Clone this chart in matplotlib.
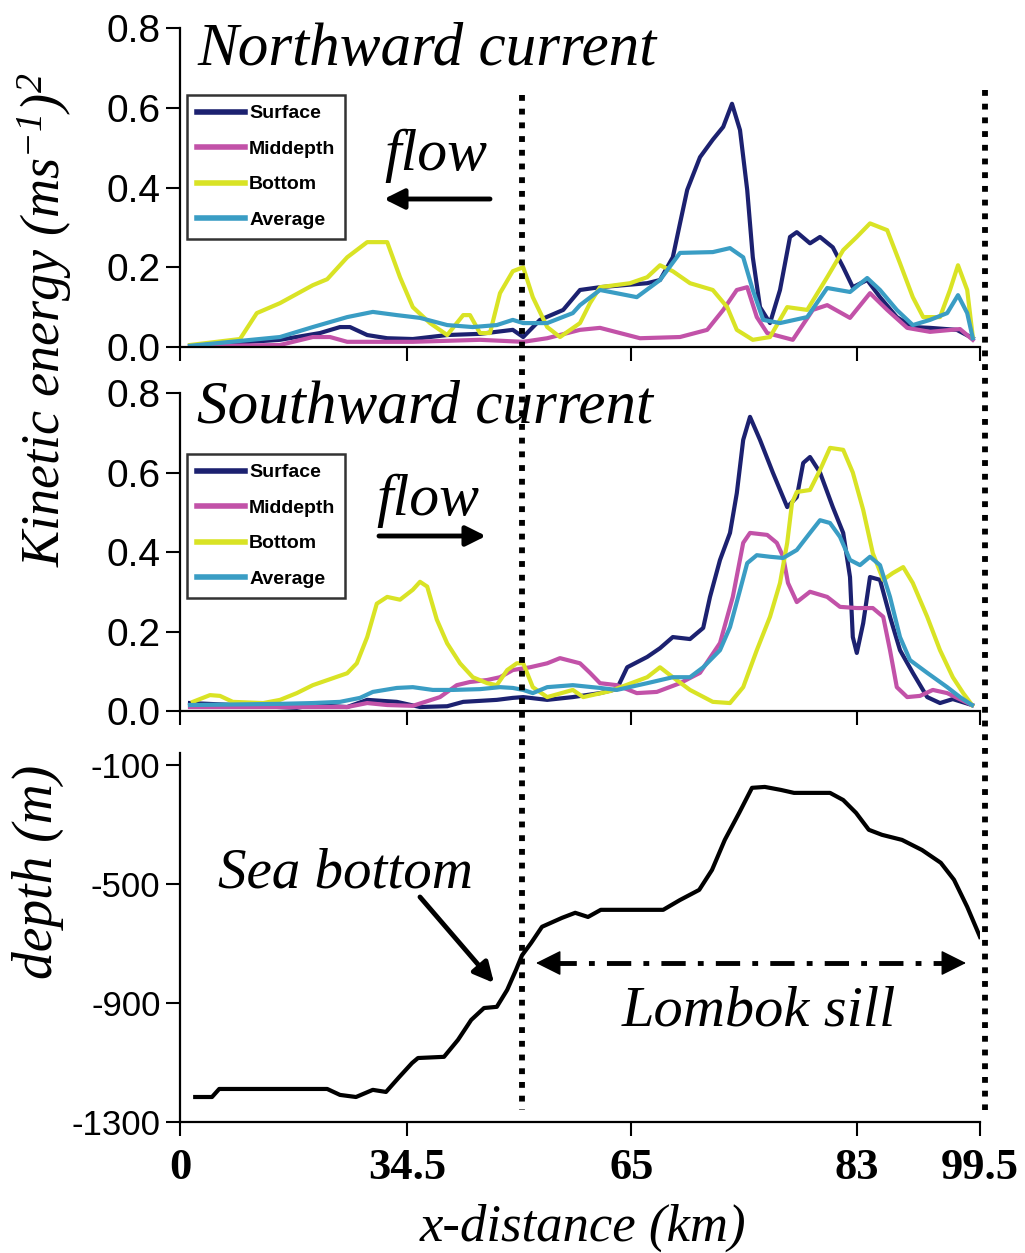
import matplotlib
matplotlib.use("Agg")
import matplotlib.pyplot as plt
from matplotlib.lines import Line2D
import matplotlib.transforms as mtransforms

# ---------------- data (x in plot units 0..100 along the section) ----------------
tick_pos = [0, 28.4, 56.4, 84.6, 100]
tick_labels = ["0", "34.5", "65", "83", "99.5"]
series_names = ["Surface", "Middepth", "Bottom", "Average"]

# Northward current
n_surface_x = [1.25, 12.5, 17.5, 20, 21.25, 23.4, 25.9, 29.1, 33.4, 37.5, 41.6, 42.9, 45, 47.9, 50, 52.5,
               58.4, 60, 61.6, 62.5, 63.4, 65, 66.6, 67.9, 69, 70, 70.9, 71.6, 72.5, 73.75, 75, 76.25,
               77.1, 78.75, 80, 81.6, 82.9, 84.1, 85.9, 87.5, 89.6, 91.6, 93.75, 97.1, 99.1]
n_surface_y = [0.003, 0.018, 0.035, 0.05, 0.05, 0.03, 0.022, 0.02, 0.03, 0.033, 0.043, 0.025, 0.068, 0.093, 0.143, 0.15,
               0.16, 0.168, 0.225, 0.31, 0.394, 0.476, 0.52, 0.552, 0.61, 0.544, 0.394, 0.225, 0.10, 0.06, 0.143, 0.276,
               0.288, 0.26, 0.276, 0.25, 0.20, 0.15, 0.168, 0.125, 0.075, 0.05, 0.048, 0.043, 0.022]
n_mid_x = [1.25, 12.5, 16.6, 18.75, 20.9, 29.1, 37.5, 42.9, 45.9, 50, 52.5, 55, 57.5, 62.5, 65.9, 67.9,
           69.6, 70.9, 72.1, 73.4, 76.6, 79.1, 80.9, 83.75, 86.25, 88.4, 90.9, 93.75, 97.5, 99.1]
n_mid_y = [0.002, 0.005, 0.025, 0.025, 0.013, 0.013, 0.018, 0.013, 0.022, 0.043, 0.048, 0.035, 0.022, 0.025, 0.043, 0.093,
           0.143, 0.15, 0.075, 0.035, 0.018, 0.093, 0.105, 0.073, 0.135, 0.093, 0.048, 0.038, 0.045, 0.018]
n_bot_x = [1.25, 7.5, 9.6, 12.5, 16.6, 18.4, 20.9, 23.4, 25.9, 27.5, 29.1, 31.25, 33.4, 35.4, 36.25, 37.5,
           38.75, 40, 41.6, 42.9, 44.1, 45.9, 47.5, 50, 51.25, 52.5, 56.25, 58.4, 60, 61.6, 63.75, 66.6,
           68.4, 69.6, 71.6, 73.75, 75.9, 78.4, 80.9, 82.9, 84.6, 86.25, 88.4, 90, 91.6, 92.9, 95, 96.25,
           97.25, 98.4, 99.1]
n_bot_y = [0.005, 0.02, 0.085, 0.11, 0.155, 0.17, 0.225, 0.263, 0.263, 0.175, 0.10, 0.06, 0.03, 0.08, 0.08, 0.035,
           0.035, 0.135, 0.19, 0.20, 0.125, 0.05, 0.025, 0.06, 0.11, 0.15, 0.16, 0.175, 0.205, 0.19, 0.16, 0.143,
           0.10, 0.043, 0.018, 0.025, 0.10, 0.093, 0.175, 0.243, 0.276, 0.31, 0.293, 0.21, 0.125, 0.075, 0.075, 0.143,
           0.205, 0.143, 0.025]
n_avg_x = [1.25, 12.5, 16.6, 20.9, 24.1, 27.1, 30, 33.4, 36.6, 39.6, 41.6, 42.9, 45.9, 49.1, 50, 52.5,
           57.1, 60, 62.5, 66.6, 68.75, 70.4, 71.6, 72.9, 75, 78.4, 80.9, 83.75, 85.9, 87.5, 89.6, 91.6,
           93.75, 95.9, 97.25, 98.4, 99.1]
n_avg_y = [0.003, 0.025, 0.05, 0.075, 0.088, 0.08, 0.073, 0.055, 0.05, 0.055, 0.068, 0.06, 0.06, 0.085, 0.105, 0.143,
           0.125, 0.168, 0.236, 0.238, 0.248, 0.225, 0.143, 0.068, 0.06, 0.075, 0.148, 0.138, 0.173, 0.143, 0.093, 0.055,
           0.068, 0.085, 0.13, 0.085, 0.022]

# Southward current
s_surface_x = [1.25, 14.6, 16.6, 20.9, 23.4, 27.1, 30, 33.4, 35.4, 39.6, 41.6, 42.9, 45.9, 49.1, 52.5, 54.6,
               55.9, 58.4, 60, 61.6, 63.75, 65.4, 66.25, 67.5, 68.75, 69.6, 70.4, 71.25, 72.5, 74.1, 75.9, 77.1,
               77.9, 78.75, 80, 81.6, 82.9, 83.75, 84.1, 84.6, 85.4, 86.25, 87.5, 88.75, 90, 91.6, 93.4, 95,
               96.6, 99]
s_surface_y = [0.02, 0.008, 0.015, 0.01, 0.028, 0.023, 0.01, 0.012, 0.023, 0.028, 0.033, 0.035, 0.028, 0.035, 0.045, 0.055,
               0.11, 0.136, 0.158, 0.186, 0.181, 0.209, 0.287, 0.38, 0.448, 0.548, 0.682, 0.74, 0.682, 0.60, 0.513, 0.538,
               0.624, 0.639, 0.60, 0.513, 0.448, 0.337, 0.186, 0.146, 0.221, 0.337, 0.33, 0.237, 0.153, 0.096, 0.035, 0.02,
               0.03, 0.015]
s_mid_x = [1.25, 20.9, 23.4, 25.9, 29.1, 32.5, 34.6, 36.25, 38.4, 40, 41.6, 43.75, 45.9, 47.5, 50, 51.25,
           52.5, 54.6, 57.1, 59.6, 62.5, 65, 67.5, 69.1, 70.4, 71.25, 73.4, 74.6, 75.4, 76, 77.1, 78.75,
           80.9, 82.5, 84.6, 86.6, 87.9, 88.75, 89.6, 90.9, 92.5, 94.1, 95.9, 99]
s_mid_y = [0.01, 0.01, 0.02, 0.015, 0.013, 0.035, 0.065, 0.073, 0.078, 0.085, 0.103, 0.11, 0.12, 0.133, 0.12, 0.096,
           0.07, 0.065, 0.045, 0.048, 0.07, 0.096, 0.171, 0.287, 0.423, 0.448, 0.443, 0.423, 0.388, 0.322, 0.274, 0.30,
           0.287, 0.262, 0.259, 0.259, 0.237, 0.153, 0.06, 0.035, 0.038, 0.053, 0.045, 0.015]
s_bot_x = [1.6, 3.75, 5, 6.6, 10.4, 12.5, 14.6, 16.6, 18.75, 20.9, 22.1, 23.4, 24.6, 25.9, 27.5, 29.1,
           30, 30.9, 32.1, 33.4, 35, 36.6, 38.4, 39.6, 40.9, 42.1, 42.9, 44.1, 45.9, 49.1, 50.4, 53.75,
           58.4, 60, 61.6, 63.75, 66.6, 68.75, 70.4, 72.1, 73.75, 75, 75.9, 76.5, 77.1, 78.75, 80, 81.25,
           82.9, 84.1, 85.4, 86.6, 87.9, 89.1, 90.4, 91.6, 93.4, 95, 96.6, 97.9, 99]
s_bot_y = [0.023, 0.04, 0.038, 0.023, 0.02, 0.028, 0.045, 0.065, 0.08, 0.095, 0.12, 0.186, 0.27, 0.287, 0.28, 0.305,
           0.325, 0.313, 0.23, 0.17, 0.12, 0.085, 0.07, 0.065, 0.103, 0.12, 0.12, 0.06, 0.035, 0.053, 0.035, 0.05,
           0.085, 0.11, 0.085, 0.053, 0.023, 0.02, 0.06, 0.153, 0.237, 0.322, 0.423, 0.523, 0.551, 0.556, 0.606, 0.662,
           0.657, 0.60, 0.506, 0.397, 0.33, 0.347, 0.362, 0.322, 0.237, 0.153, 0.085, 0.045, 0.015]
s_avg_x = [1.25, 12.5, 16.6, 20, 22.5, 24.1, 27.1, 29.1, 31.6, 34.1, 37.5, 40, 41.6, 42.9, 44.1, 45.9,
           49.1, 52.5, 54.6, 58.4, 61.6, 63.75, 65.4, 67.5, 68.75, 70, 70.9, 72.1, 73.75, 75.4, 77.1, 78.75,
           80, 81.25, 82.5, 83.75, 85, 86.25, 87.5, 88.75, 90, 91.25, 93.4, 95.9, 97.5, 99]
s_avg_y = [0.015, 0.018, 0.02, 0.023, 0.033, 0.048, 0.058, 0.06, 0.053, 0.053, 0.055, 0.06, 0.058, 0.053, 0.045, 0.06,
           0.065, 0.058, 0.053, 0.07, 0.085, 0.085, 0.11, 0.153, 0.211, 0.304, 0.372, 0.392, 0.388, 0.385, 0.405, 0.448,
           0.48, 0.473, 0.438, 0.38, 0.367, 0.388, 0.367, 0.287, 0.186, 0.128, 0.096, 0.06, 0.035, 0.015]

# Sea-bottom depth profile (m)
depth_x = [1.9, 4, 4.9, 18.4, 20, 22, 24.1, 25.75, 27.4, 29, 29.75, 33, 34.75, 36.4, 38, 39.6,
           40.9, 42, 42.75, 43.9, 45.25, 47.75, 49.4, 51, 52.6, 60.4, 62.5, 64.9, 66.5, 68.1, 69.9, 71.5,
           73.1, 75.1, 76.75, 81.25, 82.9, 84.5, 86.1, 87.75, 90.25, 92.75, 95.1, 96.75, 98.4, 100]
depth_y = [-1216, -1216, -1189, -1189, -1209, -1216, -1192, -1199, -1149, -1102, -1085, -1081, -1024, -957, -917, -913,
           -856, -789, -740, -698, -644, -614, -597, -611, -587, -587, -554, -520, -453, -352, -261, -177,
           -174, -184, -194, -194, -218, -261, -318, -335, -352, -386, -429, -486, -577, -678]
depth_ticks = [-100, -500, -900, -1300]
ke_ticks = [0.0, 0.2, 0.4, 0.6, 0.8]
sill_edges = [42.75, 100.6]

colors = {"Surface": "#1c2170", "Middepth": "#c252a8", "Bottom": "#d9e325", "Average": "#3a9dc4"}

# ---------------- figure ----------------
W, H = 1025, 1253
fig = plt.figure(figsize=(W / 100, H / 100), dpi=100)
fig.patch.set_facecolor("white")

def fx(px):
    return px / W

def fy(py):
    return 1 - py / H

ax1 = fig.add_axes([fx(180), fy(347), 800 / W, 319 / H])
ax2 = fig.add_axes([fx(180), fy(711), 800 / W, 318 / H])
ax3 = fig.add_axes([fx(180), fy(1122), 800 / W, 369 / H])

sans = "Liberation Sans"
serif = "Liberation Serif"

def style_axis(ax):
    for s in ["top", "right"]:
        ax.spines[s].set_visible(False)
    for s in ["left", "bottom"]:
        ax.spines[s].set_linewidth(1.6)
    ax.set_xlim(0, 100)
    ax.set_xticks(tick_pos)
    ax.tick_params(axis="both", direction="out", length=10, width=1.5)
    ax.set_facecolor("none")

panels = [
    (ax1, [(n_surface_x, n_surface_y), (n_mid_x, n_mid_y), (n_bot_x, n_bot_y), (n_avg_x, n_avg_y)]),
    (ax2, [(s_surface_x, s_surface_y), (s_mid_x, s_mid_y), (s_bot_x, s_bot_y), (s_avg_x, s_avg_y)]),
]
legend_tops = [95, 454]
for (ax, data), ltop in zip(panels, legend_tops):
    style_axis(ax)
    for name, (xs, ys) in zip(series_names, data):
        ax.plot(xs, ys, color=colors[name], lw=3.0, label=name, solid_joinstyle="round")
    ax.set_ylim(0, 0.8)
    ax.set_yticks(ke_ticks)
    ax.set_yticklabels([f"{t:.1f}" for t in ke_ticks], fontfamily=sans, fontsize=28)
    ax.set_xticklabels([])
    ax.tick_params(axis="y", pad=4)
    leg = ax.legend(loc="upper left", bbox_to_anchor=(fx(187), fy(ltop)), bbox_transform=fig.transFigure,
                    prop={"family": sans, "size": 14, "weight": "bold"}, frameon=True, fancybox=False,
                    edgecolor="black", handlelength=2.5, handletextpad=0.2, labelspacing=0.92,
                    borderpad=0.5, borderaxespad=0)
    leg.get_frame().set_linewidth(1.8)
    for line in leg.get_lines():
        line.set_linewidth(4)

style_axis(ax3)
ax3.plot(depth_x, depth_y, color="black", lw=3.0)
ax3.set_ylim(-1300, -60)
ax3.set_yticks(depth_ticks)
ax3.set_yticklabels([str(t) for t in depth_ticks], fontfamily=sans, fontsize=25)
ax3.set_xticklabels(tick_labels, fontfamily=serif, fontweight="bold", fontsize=32)
ax3.tick_params(axis="x", pad=9)
ax3.tick_params(axis="y", pad=4)

# dotted vertical lines spanning all panels
trans = mtransforms.blended_transform_factory(ax3.transData, fig.transFigure)
for xv, ytop in zip(sill_edges, [95, 90]):
    ln = Line2D([xv, xv], [fy(ytop), fy(1110)], transform=trans, color="black", lw=4.2,
                linestyle=(0, (1, 1.35)), dash_capstyle="butt")
    fig.add_artist(ln)

# texts
ital = dict(family=serif, style="italic")
fig.text(fx(197), fy(65), "Northward current", fontsize=44, va="baseline", ha="left", **ital)
fig.text(fx(197), fy(423), "Southward current", fontsize=44, va="baseline", ha="left", **ital)
fig.text(fx(384), fy(170), "flow", fontsize=43, va="baseline", ha="left", **ital)
fig.text(fx(376), fy(515), "flow", fontsize=43, va="baseline", ha="left", **ital)
fig.text(fx(218), fy(888), "Sea bottom", fontsize=41, va="baseline", ha="left", **ital)
fig.text(fx(622), fy(1025), "Lombok sill", fontsize=42, va="baseline", ha="left", **ital)
fig.text(fx(583), fy(1228), "x-distance (km)", fontsize=38, va="center", ha="center", **ital)
plt.rcParams["mathtext.fontset"] = "custom"
plt.rcParams["mathtext.rm"] = "Liberation Serif:italic"
plt.rcParams["mathtext.it"] = "Liberation Serif:italic"
fig.text(fx(45), fy(320), r"Kinetic energy (ms$^{-1}$)$^{2}$", fontsize=39, rotation=90,
         va="center", ha="center", **ital)
fig.text(fx(38), fy(872), "depth (m)", fontsize=40, rotation=90, va="center", ha="center", **ital)

# arrows
arrow_kw = dict(arrowstyle="-|>,head_length=0.6,head_width=0.3", color="black", lw=3.5,
                mutation_scale=20, shrinkA=0, shrinkB=0)
fig.add_artist(matplotlib.patches.FancyArrowPatch((fx(490), fy(199)), (fx(384), fy(199)),
                                                  transform=fig.transFigure, **arrow_kw))
fig.add_artist(matplotlib.patches.FancyArrowPatch((fx(379), fy(536)), (fx(486), fy(536)),
                                                  transform=fig.transFigure, **arrow_kw))
fig.add_artist(matplotlib.patches.FancyArrowPatch((fx(420), fy(897)), (fx(494), fy(983)),
                                                  transform=fig.transFigure, **arrow_kw))
# Lombok sill double arrow (dash-dot)
fig.add_artist(Line2D([fx(552), fx(950)], [fy(963), fy(963)], transform=fig.transFigure,
                      color="black", lw=3.5, linestyle=(0, (5, 2.5, 1.2, 2.5))))
head_kw = dict(arrowstyle="-|>,head_length=0.8,head_width=0.4", color="black", lw=1,
               mutation_scale=20, shrinkA=0, shrinkB=0)
fig.add_artist(matplotlib.patches.FancyArrowPatch((fx(560), fy(963)), (fx(536), fy(963)),
                                                  transform=fig.transFigure, **head_kw))
fig.add_artist(matplotlib.patches.FancyArrowPatch((fx(942), fy(963)), (fx(966), fy(963)),
                                                  transform=fig.transFigure, **head_kw))

fig.savefig("out.png", dpi=100, facecolor="white")
